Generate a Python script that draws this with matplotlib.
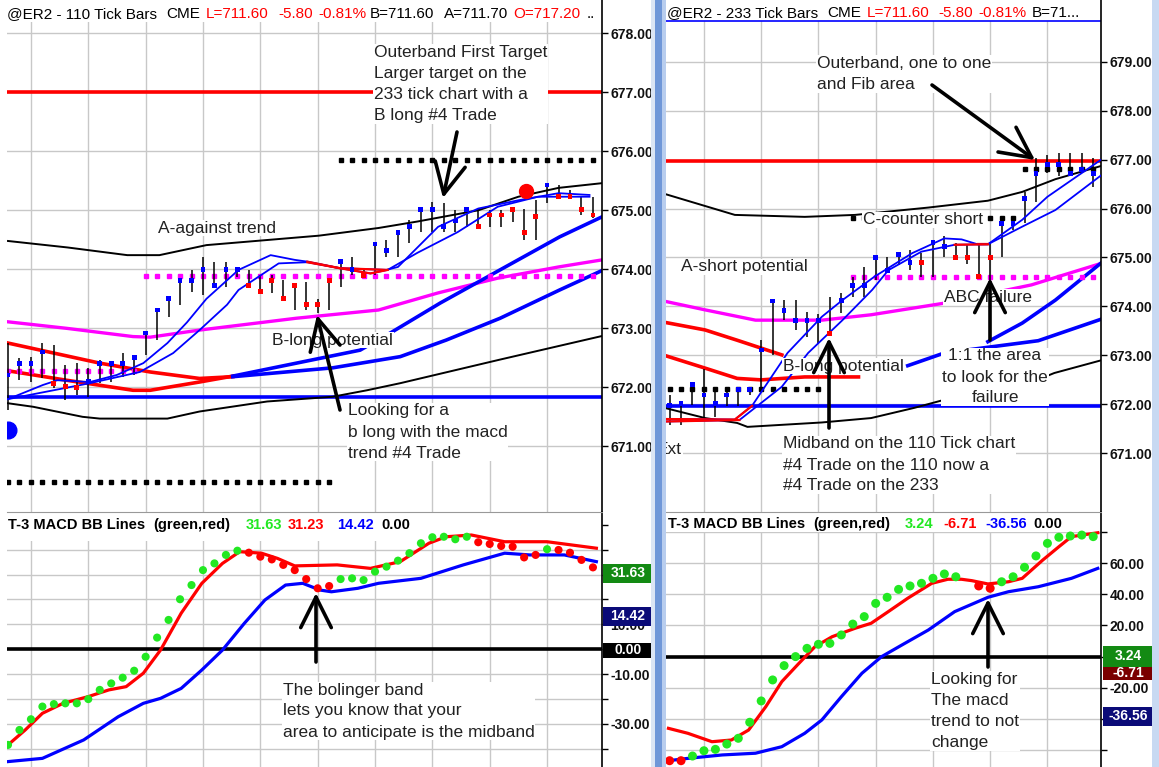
import numpy as np
import matplotlib.pyplot as plt
from matplotlib.patches import Rectangle

plt.rcParams['font.family'] = ['Liberation Sans', 'DejaVu Sans']

W, H = 1159, 767

# ---------------- 110 tick chart (left) ----------------
l_close = [672.21, 672.41, 672.41, 672.60, 672.07, 672.01, 672.00, 672.10, 672.41, 672.41,
           672.41, 672.50, 672.92, 673.31, 673.51, 673.81, 673.81, 674.00, 673.72, 674.00,
           674.00, 673.72, 673.62, 673.81, 673.51, 673.72, 673.41, 673.41, 673.81, 674.13,
           674.00, 673.90, 674.43, 674.32, 674.63, 674.72, 675.02, 675.02, 674.72, 674.82,
           675.02, 674.72, 674.92, 674.92, 675.02, 674.63, 674.90, 675.43, 675.24, 675.24,
           675.02, 674.92]
l_high = [672.75, 672.50, 672.52, 672.75, 672.72, 672.38, 672.41, 672.33, 672.46, 672.45,
          672.58, 672.55, 672.95, 673.33, 673.53, 673.83, 673.99, 674.21, 674.13, 674.13,
          674.04, 673.99, 673.90, 673.90, 673.82, 673.77, 673.78, 673.50, 673.82, 674.15,
          674.21, 673.99, 674.45, 674.50, 674.65, 674.84, 675.04, 675.14, 675.12, 675.01,
          675.04, 675.02, 675.01, 675.01, 675.04, 675.02, 675.18, 675.45, 675.43, 675.35,
          675.23, 675.23]
l_low = [671.62, 672.12, 672.09, 672.16, 671.99, 671.79, 671.87, 671.84, 672.07, 672.09,
         672.18, 672.21, 672.55, 672.80, 673.19, 673.40, 673.62, 673.57, 673.70, 673.70,
         673.87, 673.70, 673.60, 673.60, 673.51, 673.31, 673.31, 673.26, 673.31, 673.70,
         673.90, 673.85, 673.90, 674.21, 674.21, 674.45, 674.63, 674.63, 674.63, 674.63,
         674.72, 674.70, 674.72, 674.72, 674.80, 674.50, 674.50, 675.12, 675.23, 675.21,
         674.92, 674.87]
l_dir = "BBBBRRR" + "B" * 14 + "R" * 8 + "BBR" + "B" * 9 + "R" * 6 + "B" + "RRRR"

l_upper_k = [0, 5.2, 10.4, 13.2, 17.3, 27.1, 32.3, 35.7, 41.0, 44.5, 48.0, 51.8]
l_upper_v = [674.48, 674.37, 674.24, 674.24, 674.41, 674.57, 674.70, 674.81, 675.00, 675.23, 675.38, 675.46]
l_lower_k = [0, 2.2, 6.5, 8.0, 13.9, 16.7, 22.6, 28.3, 31.3, 34.2, 42.9, 51.8]
l_lower_v = [671.73, 671.67, 671.50, 671.47, 671.47, 671.59, 671.76, 671.84, 671.95, 672.07, 672.47, 672.87]
l_mid_k = [0, 5.1, 10.9, 12.4, 16.7, 25.1, 32.3, 37.5, 42.7, 48.0, 51.8]
l_mid_v = [673.11, 673.00, 672.86, 672.85, 672.97, 673.17, 673.31, 673.60, 673.85, 674.04, 674.16]
l_fast_k = [0, 3.05, 4.3, 7.15, 9.5, 11.8, 13.9, 15.6, 17.3, 20.1, 22.9, 25.0, 26.1, 28.9, 33.0,
            34.0, 37.5, 41.0, 44.5, 48.0, 50.7]
l_fast_v = [671.80, 672.04, 672.12, 672.09, 672.21, 672.41, 672.75, 673.10, 673.50, 673.99, 674.24,
            674.16, 674.13, 674.02, 673.99, 674.04, 674.72, 675.03, 675.17, 675.29, 675.26]
l_slow_k = [0, 7.15, 11.5, 14.4, 16.7, 19.1, 20.1, 23.6, 26.1, 28.9, 31.6, 33.1, 35.7, 39.2,
            42.7, 46.2, 50.7]
l_slow_v = [671.80, 672.07, 672.26, 672.58, 672.97, 673.40, 673.65, 674.10, 674.12, 674.02,
            673.93, 673.99, 674.28, 674.63, 675.06, 675.23, 675.23]
l_red_span = (26.0, 33.2)
l_redA_k = [0, 8.0, 12.4, 16.7, 19.6]
l_redA_v = [672.75, 672.41, 672.26, 672.15, 672.18]
l_redB_k = [0, 5.1, 10.9, 12.4, 16.7, 19.6]
l_redB_v = [672.28, 672.12, 671.95, 671.95, 672.09, 672.19]
l_blueA_k = [19.6, 30.7, 33.5, 37.7, 42.9, 48.1, 51.8]
l_blueA_v = [672.19, 672.63, 672.94, 673.43, 673.99, 674.55, 674.89]
l_blueB_k = [19.6, 28.3, 34.2, 38.2, 42.9, 48.1, 51.8]
l_blueB_v = [672.18, 672.33, 672.52, 672.80, 673.17, 673.65, 673.98]
l_target, l_support = 677.0, 671.84
l_dots_black = [(675.85, 29, 51), (670.40, 0, 28)]
l_dots_mag = [(673.89, 12, 51), (672.28, 0, 11)]
l_big_dot = (45.2, 675.33)
l_blue_dot = (0, 671.28)

# MACD 110
ml_red_k = [0, 1.5, 3.0, 4.8, 7.0, 8.8, 10.3, 11.8, 13.3, 15.1, 16.9, 18.7, 20.2, 22.1, 23.5,
            25.0, 28.7, 31.6, 34.2, 36.7, 38.2, 40.4, 43.3, 47.0, 51.3]
ml_red_v = [-38.4, -32.4, -25.7, -21.7, -19.0, -16.3, -15.0, -9.6, -0.3, 14.5, 26.5, 34.5, 39.2,
            38.6, 36.5, 33.5, 33.9, 32.5, 35.2, 42.6, 45.2, 45.9, 43.2, 43.2, 40.6]
ml_blue_k = [0, 3.0, 6.6, 9.6, 11.8, 13.3, 15.1, 16.9, 18.7, 20.6, 22.4, 24.2, 25.7, 27.2, 28.2,
             30.5, 32.3, 36.0, 39.7, 43.3, 45.5, 48.5, 51.3]
ml_blue_v = [-45.1, -43.8, -36.4, -27.1, -21.7, -19.7, -15.7, -8.3, -0.3, 10.4, 19.8, 25.8, 26.5,
             23.8, 23.1, 24.5, 26.5, 28.5, 33.9, 38.6, 37.9, 37.9, 35.2]
ml_dots = [-38.4, -32.4, -28.1, -23.0, -22.0, -21.7, -21.7, -20.0, -16.3, -13.7,
           -11.4, -8.6, -3.0, 4.7, 11.8, 20.1, 25.8, 31.8, 34.5, 37.9,
           39.6, 38.8, 37.2, 36.1, 33.9, 31.8, 28.2, 24.5, 25.4, 28.2,
           28.5, 27.8, 31.2, 33.2, 35.6, 38.6, 42.6, 45.0, 45.2, 44.2,
           45.2, 43.0, 42.3, 41.5, 41.2, 36.9, 37.9, 40.2, 39.9, 38.8,
           35.9, 32.9]
ml_dot_dir = "G" * 21 + "R" * 8 + "G" * 12 + "R" * 6 + "G" + "R" * 4

# ---------------- 233 tick chart (right) ----------------
r_close = [671.97, 672.01, 672.41, 672.19, 672.01, 672.19, 672.31, 672.31, 673.11, 674.11,
           673.91, 673.71, 673.71, 673.71, 673.45, 674.12, 674.42, 674.42, 675.00, 674.73,
           675.06, 674.90, 674.90, 675.31, 675.22, 675.00, 675.00, 674.61, 675.00, 675.70,
           675.70, 676.21, 676.72, 676.90, 676.90, 676.72, 676.80, 676.72]
r_high = [672.19, 672.05, 672.46, 672.72, 672.36, 672.36, 672.36, 672.36, 673.31, 674.13,
          674.13, 674.13, 673.89, 673.85, 674.20, 674.27, 674.61, 674.80, 675.05, 675.02,
          675.08, 675.15, 675.09, 675.35, 675.44, 675.30, 675.27, 675.30, 675.32, 675.80,
          675.80, 676.34, 677.03, 677.10, 677.13, 677.13, 677.13, 677.03]
r_low = [671.57, 671.57, 671.99, 671.72, 671.75, 671.97, 671.97, 672.19, 672.29, 673.01,
         673.72, 673.52, 673.38, 673.24, 673.40, 673.86, 674.20, 674.20, 674.54, 674.68,
         674.84, 674.75, 674.61, 674.60, 675.02, 674.97, 674.86, 674.61, 674.50, 675.00,
         675.56, 675.70, 676.14, 676.72, 676.66, 676.66, 676.72, 676.45]
r_dir = "B" * 14 + "R" + "B" * 7 + "R" + "BB" + "RRRR" + "B" * 9

r_upper_k = [-0.3, 5.7, 11.8, 16.2, 22.6, 27.8, 30.8, 33.7, 37.7]
r_upper_v = [676.29, 675.87, 675.83, 675.87, 676.02, 676.16, 676.34, 676.60, 676.87]
r_lower_k = [-0.3, 3.1, 5.9, 6.8, 13.3, 17.6, 21.4, 24.9, 29.9, 33.6, 37.7]
r_lower_v = [671.92, 671.72, 671.62, 671.54, 671.63, 671.72, 671.93, 672.15, 672.29, 672.64, 672.90]
r_mid_k = [-0.3, 3.1, 7.5, 13.3, 17.6, 23.8, 31.6, 37.7]
r_mid_v = [674.10, 673.93, 673.72, 673.72, 673.83, 674.06, 674.44, 674.88]
r_red1_k = [-0.3, 3.1, 5.9, 9.8]
r_red1_v = [673.67, 673.52, 673.31, 673.01]
r_red2_k = [-0.3, 3.1, 5.9, 8.0, 11.8, 16.5]
r_red2_v = [672.99, 672.74, 672.53, 672.50, 672.56, 672.56]
r_blue1_k = [20.8, 24.0, 32.2, 37.7]
r_blue1_v = [672.79, 673.05, 673.30, 673.74]
r_blue2_k = [27.8, 30.8, 33.7, 37.7]
r_blue2_v = [673.28, 673.66, 674.13, 674.89]
r_fast_k = [-0.3, 5.7, 7.2, 10.3, 13.3, 15.1, 17.9, 21.2, 24.0, 25.5, 26.9, 27.8, 30.8, 33.0, 35.1, 37.7]
r_fast_v = [671.70, 671.69, 671.97, 673.05, 673.79, 674.13, 674.61, 675.09, 675.39, 675.37,
            675.27, 675.27, 675.77, 676.24, 676.58, 677.00]
r_slow_k = [-0.3, 6.1, 9.8, 12.1, 15.1, 17.7, 19.1, 22.0, 24.9, 27.8, 30.8, 33.7, 37.7]
r_slow_v = [671.65, 671.68, 672.36, 673.05, 673.72, 674.34, 674.74, 675.12, 675.26, 675.27,
            675.63, 675.97, 676.68]
r_fast_red = [(-1, 7.2), (26.9, 27.8)]
r_slow_red = [(-1, 6.1), (24.9, 27.8)]
r_target, r_support, r_topline = 676.98, 671.97, 679.83
r_dots_black = [(672.31, 0, 13), (675.80, 16, 30), (676.81, 31, 37)]
r_dots_mag = [(674.61, 16, 37)]

# MACD 233
mr_red_k = [-0.1, 1.6, 3.7, 5.4, 6.9, 8.4, 9.8, 11.3, 12.7, 14.2, 16.2, 17.6, 19.1, 20.8, 22.9,
            24.3, 25.5, 26.4, 27.8, 29.6, 30.8, 32.6, 34.0, 35.1, 37.4]
mr_red_v = [-46.1, -49.3, -54.7, -53.6, -47.2, -32.2, -16.1, -4.3, 6.4, 12.8, 18.2, 21.4, 28.9,
            37.5, 47.1, 49.7, 49.7, 48.8, 46.7, 48.1, 50.3, 62.1, 70.6, 77.1, 79.6]
mr_blue_k = [-0.1, 1.6, 4.6, 7.5, 9.8, 11.8, 13.3, 15.0, 16.8, 18.5, 20.3, 22.6, 24.9, 26.7, 27.8,
             29.6, 32.2, 35.1, 37.4]
mr_blue_v = [-66.9, -65.4, -63.2, -62.1, -57.9, -49.3, -40.7, -25.8, -10.7, -0.1, 7.5, 17.1, 28.9,
             34.6, 38.1, 41.7, 44.9, 50.3, 56.7]
mr_dots = [-66.9, -66.9, -63.9, -60.5, -59.6, -56.2, -52.5, -42.2, -28.5, -15.0,
           -5.8, 0.0, 5.3, 7.9, 8.5, 13.9, 20.9, 25.7, 34.2, 38.1,
           43.2, 45.4, 47.1, 50.3, 53.1, 51.3, np.nan, 45.4, 43.9, 48.1,
           51.3, 57.4, 64.7, 72.8, 76.7, 77.5, 78.1, 77.1]
mr_dot_dir = "RR" + "G" * 24 + "G" + "RR" + "G" * 9

RED, BLUE, MAG, GREEN = '#ff0000', '#0000ff', '#ff00ff', '#22e822'
cmap = {'B': BLUE, 'R': RED, 'G': GREEN}

fig = plt.figure(figsize=(W / 100, H / 100), dpi=100)


def px_axes(x0, y0, x1, y1):
    return fig.add_axes([x0 / W, 1 - y1 / H, (x1 - x0) / W, (y1 - y0) / H], zorder=1)


def style(ax, xlim, ylim, xgrid, yticks, ylabels, band_px, height_px):
    ax.set_xlim(*xlim)
    ax.set_ylim(*ylim)
    ax.set_xticks(xgrid)
    ax.set_yticks(yticks)
    ax.set_yticklabels(ylabels, fontweight='bold', fontsize=10, color='#111')
    ax.yaxis.tick_right()
    ax.tick_params(axis='x', length=0, labelbottom=False)
    ax.tick_params(axis='y', length=4, width=1, pad=2, direction='out')
    ax.grid(True, color='#c8c8c8', lw=1)
    ax.set_axisbelow(True)
    for s in ('left', 'top', 'bottom'):
        ax.spines[s].set_visible(False)
    ax.spines['right'].set_linewidth(1.2)
    f = 1 - band_px / height_px
    ax.add_patch(Rectangle((0, f), 1, 1 - f, transform=ax.transAxes, fc='white', ec='none', zorder=0.9))


def draw_bars(ax, close, high, low, dirs):
    k = np.arange(len(close))
    ax.vlines(k, low, high, color='k', lw=1.1, zorder=3)
    ax.scatter(k, close, c=[cmap[d] for d in dirs], marker='s', s=12, linewidths=0, zorder=4)


def dotted(ax, specs, color):
    for level, a, b in specs:
        ks = np.arange(a, b + 1)
        ax.plot(ks, [level] * len(ks), ls='none', marker='s', ms=2.5, color=color, zorder=2)


def ma_line(ax, ks, vs, spans):
    ks, vs = np.array(ks), np.array(vs)
    ax.plot(ks, vs, color=BLUE, lw=1.3, zorder=3)
    for a, b in spans:
        m = (ks >= a) & (ks <= b)
        ax.plot(ks[m], vs[m], color=RED, lw=1.6, zorder=3)


# ---- left price pane ----
ax1 = px_axes(7, 0, 602, 512)
style(ax1, (-0.087, 51.79), (669.887, 678.564), np.arange(2, 51, 5), range(671, 679),
      [f'{v:.2f}' for v in range(671, 679)], 22, 512)
ax1.axhline(l_target, color=RED, lw=2.6, zorder=2)
ax1.axhline(l_support, color=BLUE, lw=2.6, zorder=2)
ax1.plot(l_upper_k, l_upper_v, color='k', lw=1.4)
ax1.plot(l_lower_k, l_lower_v, color='k', lw=1.4)
ax1.plot(l_mid_k, l_mid_v, color=MAG, lw=2.4)
ax1.plot(l_redA_k, l_redA_v, color=RED, lw=2.6)
ax1.plot(l_redB_k, l_redB_v, color=RED, lw=2.6)
ax1.plot(l_blueA_k, l_blueA_v, color=BLUE, lw=2.6)
ax1.plot(l_blueB_k, l_blueB_v, color=BLUE, lw=2.6)
dotted(ax1, l_dots_black, 'k')
dotted(ax1, l_dots_mag, MAG)
draw_bars(ax1, l_close, l_high, l_low, l_dir)
ma_line(ax1, l_fast_k, l_fast_v, [l_red_span])
ma_line(ax1, l_slow_k, l_slow_v, [l_red_span])
ax1.plot(*l_big_dot, 'o', color=RED, ms=10, zorder=5)
ax1.plot(*l_blue_dot, 'o', color=BLUE, ms=12, zorder=5)

# ---- left MACD pane ----
ax2 = px_axes(7, 512, 602, 767)
ml_ticks = list(range(-40, 51, 10))
style(ax2, (-0.087, 51.79), (-47.27, 55.14), np.arange(2, 51, 5), ml_ticks,
      [f'{t:.2f}' if t in (10, -10, -30) else '' for t in ml_ticks], 29, 255)
ax2.spines['top'].set_visible(True)
ax2.spines['top'].set_color('#999999')
ax2.axhline(0, color='k', lw=2.6, zorder=1.5)
ax2.plot(ml_blue_k, ml_blue_v, color=BLUE, lw=2.3, zorder=2)
ax2.plot(ml_red_k, ml_red_v, color=RED, lw=2.3, zorder=2)
ax2.scatter(np.arange(len(ml_dots)), ml_dots, c=[cmap[d] for d in ml_dot_dir], s=34, linewidths=0, zorder=3)

# ---- right price pane ----
ax3 = px_axes(666, 0, 1101, 512)
style(ax3, (-0.314, 37.68), (669.801, 680.26), np.arange(3, 37, 5), range(671, 680),
      [f'{v:.2f}' for v in range(671, 680)], 21, 512)
ax3.axhline(r_topline, color=BLUE, lw=1.2, zorder=2)
ax3.axhline(r_target, color=RED, lw=2.6, zorder=2)
ax3.axhline(r_support, color=BLUE, lw=2.6, zorder=2)
ax3.plot(r_upper_k, r_upper_v, color='k', lw=1.4)
ax3.plot(r_lower_k, r_lower_v, color='k', lw=1.4)
ax3.plot(r_mid_k, r_mid_v, color=MAG, lw=2.4)
ax3.plot(r_red1_k, r_red1_v, color=RED, lw=2.6)
ax3.plot(r_red2_k, r_red2_v, color=RED, lw=2.6)
ax3.plot(r_blue1_k, r_blue1_v, color=BLUE, lw=2.6)
ax3.plot(r_blue2_k, r_blue2_v, color=BLUE, lw=2.6)
dotted(ax3, r_dots_black, 'k')
dotted(ax3, r_dots_mag, MAG)
draw_bars(ax3, r_close, r_high, r_low, r_dir)
ma_line(ax3, r_fast_k, r_fast_v, r_fast_red)
ma_line(ax3, r_slow_k, r_slow_v, r_slow_red)

# ---- right MACD pane ----
ax4 = px_axes(666, 512, 1101, 767)
mr_ticks = list(range(-60, 81, 20))
style(ax4, (-0.314, 37.68), (-70.95, 92.93), np.arange(3, 37, 5), mr_ticks,
      [f'{t:.2f}' if t in (60, 40, 20, -20) else '' for t in mr_ticks], 20, 255)
ax4.spines['top'].set_visible(True)
ax4.spines['top'].set_color('#999999')
ax4.axhline(0, color='k', lw=2.6, zorder=1.5)
ax4.plot(mr_blue_k, mr_blue_v, color=BLUE, lw=2.3, zorder=2)
ax4.plot(mr_red_k, mr_red_v, color=RED, lw=2.3, zorder=2)
ax4.scatter(np.arange(len(mr_dots)), mr_dots, c=[cmap[d] for d in mr_dot_dir], s=42, linewidths=0, zorder=3)

# ---- overlay: headers, notes, arrows, value boxes ----
ov = fig.add_axes([0, 0, 1, 1], zorder=10)
ov.set_xlim(0, W)
ov.set_ylim(H, 0)
ov.axis('off')
ov.patch.set_alpha(0)


def header(parts, y, size=11, weight='normal'):
    for s, x, c in parts:
        ov.text(x, y, s, color=c, fontsize=size, fontweight=weight, va='center', ha='left')


header([("@ER2 - 110 Tick Bars", 7, 'k'), ("CME", 166, 'k'), ("L=711.60", 206, RED),
        ("-5.80", 278, RED), ("-0.81%", 318, RED), ("B=711.60", 370, 'k'),
        ("A=711.70", 444, 'k'), ("O=717.20", 513, RED), ("..", 587, 'k')], 14)
header([("@ER2 - 233 Tick Bars", 667, 'k'), ("CME", 827, 'k'), ("L=711.60", 867, RED),
        ("-5.80", 938, RED), ("-0.81%", 978, RED), ("B=71...", 1032, 'k')], 13)
header([("T-3 MACD BB Lines", 8, 'k'), ("(green,red)", 153, 'k'), ("31.63", 246, GREEN),
        ("31.23", 288, RED), ("14.42", 337, BLUE), ("0.00", 381, 'k')], 525, 10.5, 'bold')
header([("T-3 MACD BB Lines", 668, 'k'), ("(green,red)", 813, 'k'), ("3.24", 905, GREEN),
        ("-6.71", 943, RED), ("-36.56", 985, BLUE), ("0.00", 1033, 'k')], 524, 10.5, 'bold')


def note(x, y, s, ha='left'):
    ov.text(x, y, s, fontsize=12.5, color='#222', ha=ha, va='center', multialignment=ha,
            linespacing=1.5, bbox=dict(fc='white', ec='none', pad=0.5), zorder=11)


note(374, 84, "Outerband First Target\nLarger target on the\n233 tick chart with a\nB long #4 Trade")
note(158, 228, "A-against trend")
note(272, 340, "B-long potential")
note(348, 432, "Looking for a\nb long with the macd\ntrend #4 Trade")
note(817, 74, "Outerband, one to one\nand Fib area")
note(863, 220, "C-counter short")
note(681, 267, "A-short potential")
note(944, 297, "ABC failure")
note(995, 377, "1:1 the area\nto look for the\nfailure", ha='center')
note(783, 366, "B-long potential")
note(783, 465, "Midband on the 110 Tick chart\n#4 Trade on the 110 now a\n#4 Trade on the 233")
note(657, 450, "Ext")
note(283, 711, "The bolinger band\nlets you know that your\narea to anticipate is the midband")
note(931, 711, "Looking for\nThe macd\ntrend to not\nchange")


def arrow(tail, head):
    ov.annotate('', xy=head, xytext=tail,
                arrowprops=dict(arrowstyle='->,head_length=1.0,head_width=0.5', lw=2.6,
                                color='k', shrinkA=0, shrinkB=0, mutation_scale=22), zorder=12)


arrow((457, 132), (443, 198))
arrow((340, 410), (317, 315))
arrow((932, 85), (1035, 160))
arrow((990, 340), (990, 278))
arrow((829, 428), (829, 338))
arrow((316, 662), (316, 593))
arrow((988, 667), (988, 599))


def vbox(x0, x1, yc, h, s, fc):
    ov.add_patch(Rectangle((x0, yc - h / 2), x1 - x0, h, fc=fc, ec='none', zorder=11))
    ov.text((x0 + x1) / 2 + 1, yc, s, color='white', fontsize=10, fontweight='bold',
            ha='center', va='center', zorder=12)


vbox(603, 651, 573, 19, "31.63", '#138a13')
vbox(603, 651, 616, 19, "14.42", '#0b0b78')
vbox(603, 651, 650, 15, "0.00", '#000000')
vbox(1103, 1152, 656, 21, "3.24", '#138a13')
vbox(1103, 1152, 673, 13, "-6.71", '#7a0000')
vbox(1103, 1152, 716, 19, "-36.56", '#0b0b78')

# window separators
ov.add_patch(Rectangle((651, 0), 4, H, fc='#dbe5f4', ec='none', zorder=13))
ov.add_patch(Rectangle((655, 0), 7, H, fc='#6f97d8', ec='none', zorder=13))
ov.add_patch(Rectangle((662, 0), 4, H, fc='#b8cdee', ec='none', zorder=13))
ov.add_patch(Rectangle((1152, 0), 7, H, fc='#c8d9f2', ec='none', zorder=13))

fig.savefig('out.png', dpi=100)
